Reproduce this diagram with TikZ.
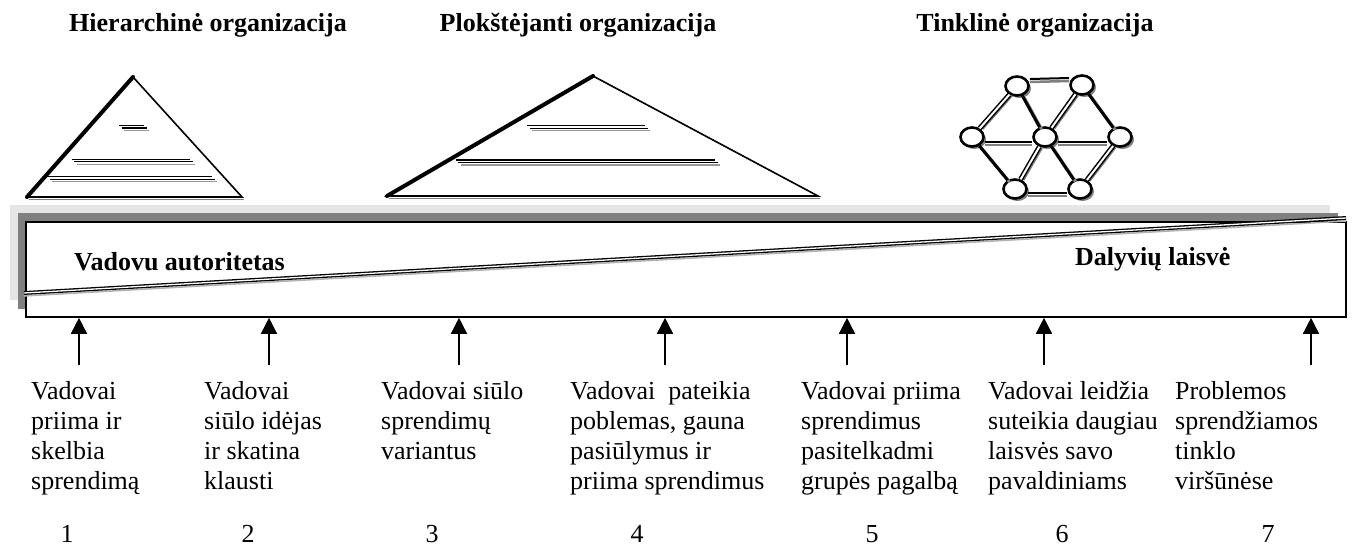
\documentclass[tikz,border=0pt]{standalone}
\usepackage{fontspec}
\setmainfont{Liberation Serif}
\usetikzlibrary{arrows.meta,shapes.geometric,shadows}

% three stacked rules inside a pyramid: x-start, x-end, y, step
\newcommand\rungs[4]{%
  \draw[gray!80, line width=1.1pt] (#1+2*#4,#3+2*#4) -- (#2+2*#4,#3+2*#4);
  \draw[line width=1.1pt] (#1+#4,#3+#4) -- (#2+#4,#3+#4);
  \draw[line width=1.1pt] (#1,#3) -- (#2,#3);}

\begin{document}
\begin{tikzpicture}[x=1pt,y=-1pt,
  heading/.style={font=\fontsize{26}{30}\selectfont\bfseries, anchor=base, inner sep=0},
  bartext/.style={font=\fontsize{26}{30}\selectfont\bfseries, anchor=base west, inner sep=0},
  body/.style={font=\fontsize{26}{30}\selectfont, align=left, anchor=north west, inner sep=0},
  num/.style={font=\fontsize{26}{30}\selectfont, anchor=base, inner sep=0},
  uparrow/.style={-{Triangle[width=16pt,length=16pt]}, line width=1.6pt},
  pyr/.style={line width=1.6pt, line join=miter},
  ledge/.style={line width=4pt, line cap=round},
  vertex/.style={ellipse, draw, line width=2.6pt, fill=white,
    minimum width=23pt, minimum height=19pt, inner sep=0,
    drop shadow={shadow xshift=2.5pt, shadow yshift=-2.5pt, fill=gray, opacity=1}},
  strongline/.style={line width=3pt},
  shadowline/.style={line width=2.5pt, gray},
  dblline/.style={double=white, double distance=2pt, line width=1.5pt},
]
\useasboundingbox (0,0) rectangle (1352,547);

% ---- headings
\node[heading] (t1) at (208,31) {Hierarchinė organizacija};
\node[heading] (t2) at (578,31) {Plokštėjanti organizacija};
\node[heading] (t3) at (1035,31) {Tinklinė organizacija};

% ---- hierarchical pyramid
\coordinate (h1) at (27,197);
\coordinate (h2) at (133,77);
\coordinate (h3) at (242,197);
\draw[gray, line width=1pt] ([shift={(2pt,-2pt)}]h1) -- ([shift={(2pt,-2pt)}]h3);
\draw[pyr] (h1) -- (h2) -- (h3) -- cycle;
\draw[ledge] (h1) -- (h2);
\rungs{119}{144}{125.5}{2.5}
\rungs{71.7}{190}{159.3}{2.5}
\rungs{47.3}{212}{176.7}{2.5}

% ---- flattening pyramid
\coordinate (p1) at (387,196);
\coordinate (p2) at (593,76);
\coordinate (p3) at (818,196);
\draw[gray, line width=1pt] ([shift={(2pt,-2pt)}]p1) -- ([shift={(2pt,-2pt)}]p3);
\draw[pyr] (p1) -- (p2) -- (p3) -- cycle;
\draw[ledge] (p1) -- (p2);
\rungs{527}{645}{125.7}{2.5}
\rungs{455.7}{715}{160}{2.5}

% ---- network
\node[vertex] (TL) at (1017,86) {};
\node[vertex] (TR) at (1082,85) {};
\node[vertex] (L)  at (972,137) {};
\node[vertex] (C)  at (1045,137) {};
\node[vertex] (R)  at (1120,137) {};
\node[vertex] (BL) at (1015,189) {};
\node[vertex] (BR) at (1080,189) {};

\foreach \a/\b in {TL/C, C/BR, TR/R, L/BL} {
  \draw[strongline, gray, transform canvas={xshift=2pt,yshift=-2pt}] (\a) -- (\b);
  \draw[strongline] (\a) -- (\b);
}
\foreach \a/\b in {TL/L, TR/C, C/BL, R/BR} {
  \draw[gray, line width=1.5pt, transform canvas={xshift=3pt,yshift=-1pt}] (\a) -- (\b);
  \draw[dblline] (\a) -- (\b);
}
\foreach \a/\b/\s in {TL/TR/7, L/C/-5, C/R/-5, BL/BR/-4} {
  \draw[shadowline] ([yshift=\s pt-3pt]\a.east) -- ([yshift=\s pt-3pt]\b.west);
  \draw[line width=2pt] ([yshift=\s pt]\a.east) -- ([yshift=\s pt]\b.west);
}

% ---- scale bar with stepped shade
\fill[black!10] (10,205) rectangle (1330,300);
\fill[gray] (18,213) rectangle (1338,309);
\node[draw, line width=1.6pt, fill=white, minimum width=1320pt,
      minimum height=95pt, inner sep=0] (bar) at (686,269.5) {};

\coordinate (dl) at (24,293);
\coordinate (dr) at (1346,218);
\draw[gray!60, line width=1.5pt] ([yshift=-3pt]dl) -- ([yshift=-3pt]dr);
\draw[dblline, line width=1.3pt, double distance=1.3pt] (dl) -- (dr);

\node[bartext] (auth) at (74,270) {Vadovu autoritetas};
\node[bartext] (free) at (1075,265.5) {Dalyvių laisvė};

% ---- arrows from the stages up to the bar
\foreach \i/\x in {1/79,2/269,3/459,4/665,5/847,6/1044,7/1311} {
  \coordinate (foot\i) at (\x,365);
  \draw[uparrow] (foot\i) -- (foot\i |- bar.south);
}

% ---- stage descriptions
\node[body] (d1) at (31,378) {\strut Vadovai\\priima ir\\skelbia\\sprendimą};
\node[body] (d2) at (204,378) {\strut Vadovai\\siūlo idėjas\\ir skatina\\klausti};
\node[body] (d3) at (381,378) {\strut Vadovai siūlo\\sprendimų\\variantus};
\node[body] (d4) at (570,378) {\strut Vadovai\ \ pateikia\\poblemas, gauna\\pasiūlymus ir\\priima sprendimus};
\node[body] (d5) at (801,378) {\strut Vadovai priima\\sprendimus\\pasitelkadmi\\grupės pagalbą};
\begin{scope}
  \clip (980,370) rectangle (1156,510);
  \node[body] (d6) at (988,378) {\strut Vadovai leidžia\\suteikia daugiau\\laisvės savo\\pavaldiniams};
\end{scope}
\node[body] (d7) at (1175,378) {\strut Problemos\\sprendžiamos\\tinklo\\viršūnėse};

% ---- stage numbers
\foreach \i/\x in {1/67,2/248,3/432,4/637,5/872,6/1062,7/1268}
  \node[num] (n\i) at (\x,542) {\i};

\end{tikzpicture}
\end{document}
